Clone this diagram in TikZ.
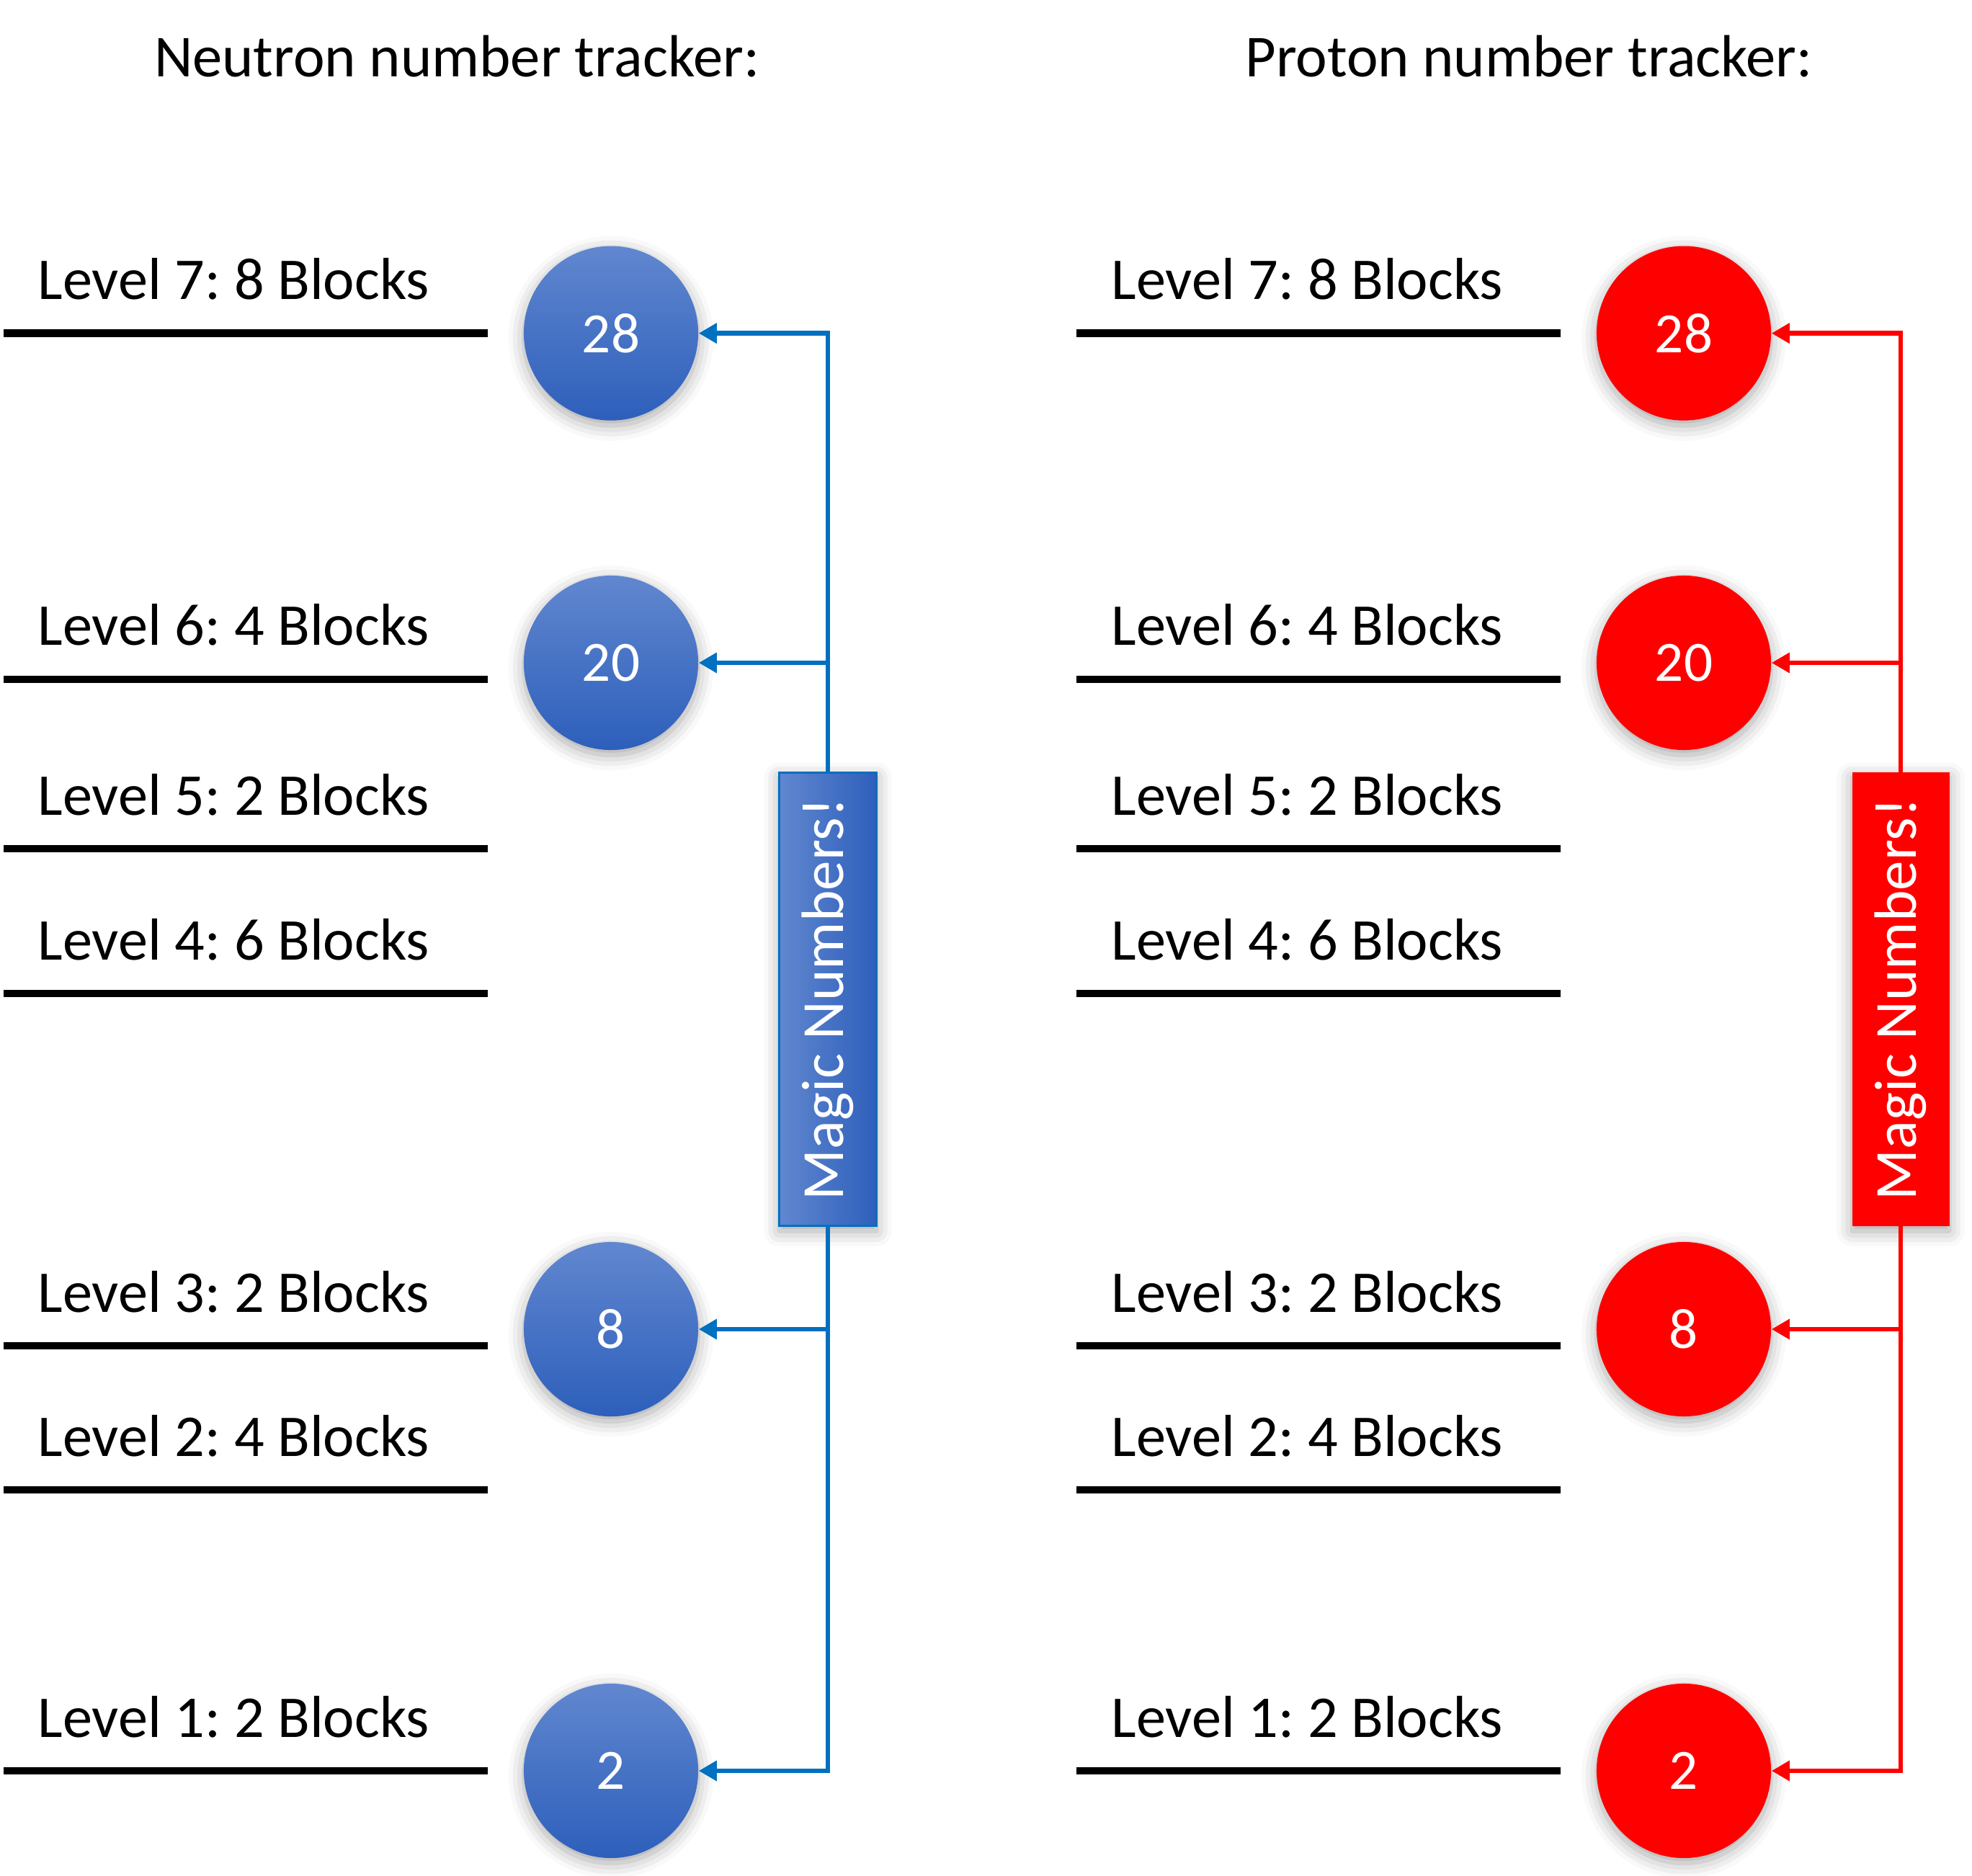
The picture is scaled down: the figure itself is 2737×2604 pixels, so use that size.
\documentclass[tikz,border=0pt]{standalone}
\usepackage{fontspec}
\setmainfont{Carlito}
\usetikzlibrary{arrows.meta,shadows.blur}
\frenchspacing

\definecolor{ballTop}{HTML}{6187CF}
\definecolor{ballBot}{HTML}{2D5FBB}
\definecolor{linkBlue}{HTML}{0070C0}
\definecolor{hotRed}{HTML}{FF0000}

\tikzset{
  levelline/.style={line width=2.9pt, black},
  leveltext/.style={anchor=base west, inner sep=0pt, font=\fontsize{23.4}{28}\selectfont},
  titletext/.style={inner sep=0pt, font=\fontsize{23.5}{28}\selectfont},
  soft/.style={blur shadow={shadow xshift=0pt, shadow yshift=-2pt, shadow blur radius=6pt, shadow opacity=35}},
  ball/.style={circle, minimum size=2.42cm, inner sep=0pt, text=white,
    font=\fontsize{22.5}{26}\selectfont, soft},
  nball/.style={ball, top color=ballTop, bottom color=ballBot, draw=none},
  pball/.style={ball, fill=hotRed, draw=none},
  magic/.style={rectangle, minimum width=1.35cm, minimum height=6.29cm, inner sep=0pt,
    text=white, font=\fontsize{23.6}{26}\selectfont, soft},
  nmagic/.style={magic, left color=ballTop, right color=ballBot, draw=linkBlue, line width=0.8pt},
  pmagic/.style={magic, fill=hotRed, draw=none},
  nlink/.style={linkBlue, line width=1.85pt, -{Triangle[length=0.25cm, width=0.27cm]}},
  plink/.style={hotRed, line width=1.85pt, -{Triangle[length=0.25cm, width=0.27cm]}},
}

\begin{document}
\begin{tikzpicture}[x=0.01cm, y=-0.01cm]
\useasboundingbox (0,0) rectangle (2737,2604);

% column titles
\node[titletext] (ntitle) at (634,78) {Neutron number tracker:};
\node[titletext] (ptitle) at (2122,78) {Proton number tracker:};

% energy levels, both trackers
\foreach \lv/\y/\nb in {7/462.6/8, 6/942.6/4, 5/1178/2, 4/1379/6, 3/1868/2, 2/2068/4, 1/2458/2} {
  \draw[levelline] (5,\y) -- (677,\y);
  \node[leveltext] (nlev\lv) at (52,\y-47) {Level \lv: \nb{} Blocks};
  \draw[levelline] (1494,\y) -- (2166,\y);
  \node[leveltext] (plev\lv) at (1542,\y-47) {Level \lv: \nb{} Blocks};
}

% neutron side
\node[nball] (n28) at (848,462.6) {28};
\node[nball] (n20) at (848,920) {20};
\node[nball] (n8)  at (848,1845) {8};
\node[nball] (n2)  at (848,2458) {2};
\node[nmagic] (nbox) at (1149,1387) {\rotatebox{90}{Magic Numbers!}};

\draw[nlink] (nbox.north) |- (n28.east);
\draw[nlink] (nbox.north |- n20.east) -- (n20.east);
\draw[nlink] (nbox.south) |- (n2.east);
\draw[nlink] (nbox.south |- n8.east) -- (n8.east);

% proton side
\node[pball] (p28) at (2337,462.6) {28};
\node[pball] (p20) at (2337,920) {20};
\node[pball] (p8)  at (2337,1845) {8};
\node[pball] (p2)  at (2337,2458) {2};
\node[pmagic] (pbox) at (2638,1387) {\rotatebox{90}{Magic Numbers!}};

\draw[plink] (pbox.north) |- (p28.east);
\draw[plink] (pbox.north |- p20.east) -- (p20.east);
\draw[plink] (pbox.south) |- (p2.east);
\draw[plink] (pbox.south |- p8.east) -- (p8.east);
\end{tikzpicture}
\end{document}
